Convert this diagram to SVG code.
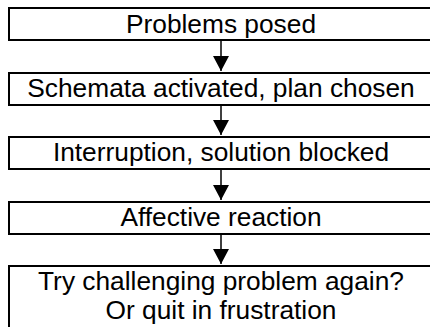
<svg xmlns="http://www.w3.org/2000/svg" width="430" height="327" viewBox="0 0 430 327">
  <style>
    .box { fill: #ffffff; stroke: #000000; stroke-width: 2; }
    .lbl { font-family: "Liberation Sans", Arial, sans-serif; font-size: 26.3px; fill: #000000; text-anchor: middle; }
    .conn { stroke: #000000; stroke-width: 1.5; fill: none; marker-end: url(#arrow); }
  </style>
  <defs>
    <marker id="arrow" viewBox="0 0 15 16" refX="15" refY="8" markerWidth="15" markerHeight="16" markerUnits="userSpaceOnUse" orient="auto">
      <path d="M0,0 L15,8 L0,16 z" fill="#000000"/>
    </marker>
  </defs>
  <rect width="430" height="327" fill="#ffffff"/>
  <g id="connectors">
    <line class="conn" x1="221" y1="41" x2="221" y2="71"/>
    <line class="conn" x1="221" y1="106" x2="221" y2="135"/>
    <line class="conn" x1="221" y1="170" x2="221" y2="200"/>
    <line class="conn" x1="221" y1="235" x2="221" y2="264"/>
  </g>
  <g id="n1">
    <rect class="box" x="9" y="8" width="424" height="32"/>
    <text class="lbl" x="221" y="33">Problems posed</text>
  </g>
  <g id="n2">
    <rect class="box" x="9" y="73" width="424" height="32"/>
    <text class="lbl" x="221" y="97">Schemata activated, plan chosen</text>
  </g>
  <g id="n3">
    <rect class="box" x="9" y="137" width="424" height="32"/>
    <text class="lbl" x="221" y="161">Interruption, solution blocked</text>
  </g>
  <g id="n4">
    <rect class="box" x="9" y="202" width="424" height="32"/>
    <text class="lbl" x="221" y="226">Affective reaction</text>
  </g>
  <g id="n5">
    <rect class="box" x="9" y="266" width="424" height="80"/>
    <text class="lbl" x="221" y="290">Try challenging problem again?</text>
    <text class="lbl" x="221" y="319">Or quit in frustration</text>
  </g>
</svg>
